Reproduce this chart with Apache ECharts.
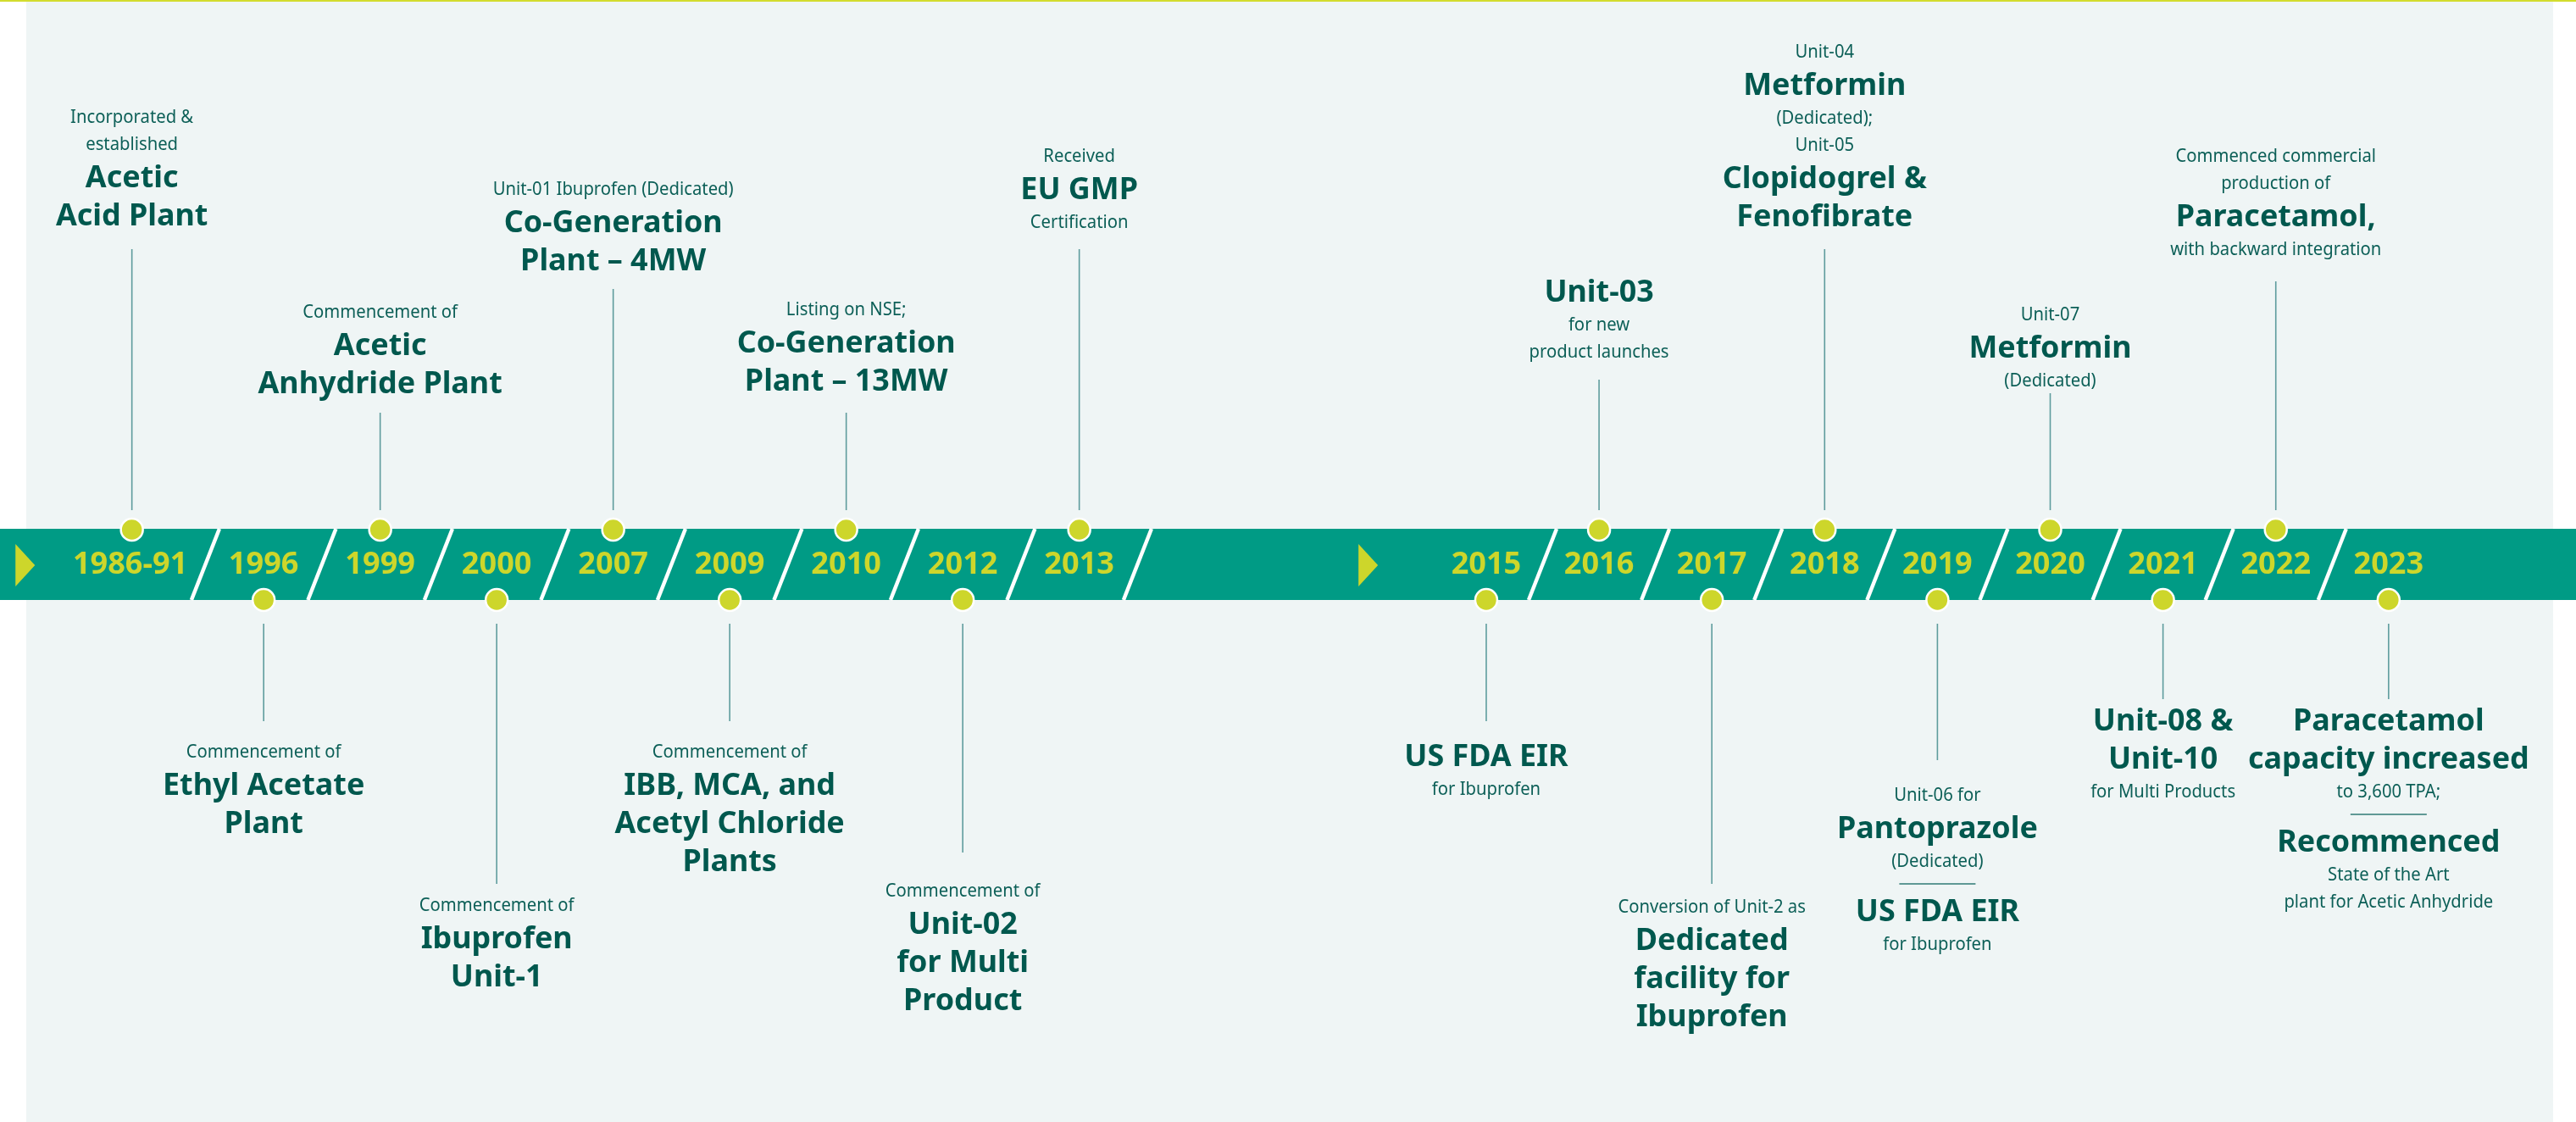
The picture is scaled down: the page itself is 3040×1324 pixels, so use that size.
<!DOCTYPE html>
<html><head><meta charset="utf-8">
<script src="https://cdn.jsdelivr.net/npm/echarts@6/dist/echarts.min.js"></script>
<style>html,body{margin:0;padding:0;background:#fff}#c{width:3040px;height:1324px}</style>
</head><body><div id="c"></div>
<script>
// ---------------- DATA ----------------
const yearsA = ['1986-91','1996','1999','2000','2007','2009','2010','2012','2013'];
const yearsB = ['2015','2016','2017','2018','2019','2020','2021','2022','2023'];
// '*' marks a headline line, '---' a short divider rule
const milestonesA = [
  ['Incorporated &','established','*Acetic','*Acid Plant'],
  ['Commencement of','*Ethyl Acetate','*Plant'],
  ['Commencement of','*Acetic','*Anhydride Plant'],
  ['Commencement of','*Ibuprofen','*Unit-1'],
  ['Unit-01 Ibuprofen (Dedicated)','*Co-Generation','*Plant – 4MW'],
  ['Commencement of','*IBB, MCA, and','*Acetyl Chloride','*Plants'],
  ['Listing on NSE;','*Co-Generation','*Plant – 13MW'],
  ['Commencement of','*Unit-02','*for Multi','*Product'],
  ['Received','*EU GMP','Certification']
];
const milestonesB = [
  ['*US FDA EIR','for Ibuprofen'],
  ['*Unit-03','for new','product launches'],
  ['Conversion of Unit-2 as','*Dedicated','*facility for','*Ibuprofen'],
  ['Unit-04','*Metformin','(Dedicated);','Unit-05','*Clopidogrel &','*Fenofibrate'],
  ['Unit-06 for','*Pantoprazole','(Dedicated)','---','*US FDA EIR','for Ibuprofen'],
  ['Unit-07','*Metformin','(Dedicated)'],
  ['*Unit-08 &','*Unit-10','for Multi Products'],
  ['Commenced commercial','production of','*Paracetamol,','with backward integration'],
  ['*Paracetamol','*capacity increased','to 3,600 TPA;','---','*Recommenced','State of the Art','plant for Acetic Anhydride']
];

// ---------------- LAYOUT (not data) ----------------
// [first text line centre y, far end of connector y, x nudge]
const LAYOUT_A = [[139,294,-18],[888,851,0],[369,487,0],[1069,1043,0],[224,341,0],[888,851,0],[366,487,0],[1052,1006,0],[185,294,0]];
const LAYOUT_B = [[894,851,0],[346,448,0],[1071,1043,0],[62,294,0],[939,897,0],[372,464,0],[852,825,0],[185,332,0],[852,825,0]];
const W = 3040, H = 1324;
const BAND_TOP = 624, BAND_BOT = 708, BAND_MID = 667;
const LINE_NEAR_TOP = 602, LINE_NEAR_BOT = 736;
const SLANT = 16.5;
const C_BAND = '#009B85', C_ACC = '#CDD62B', C_TEXT = '#00584E', C_SMALL = '#0C5F57', C_LINE = '#5E9C9D', C_PANEL = '#EFF5F5';

// ---------------- FONT PICK ----------------
const mctx = document.createElement('canvas').getContext('2d');
function hasFont(name){
  const s = 'abcdefghijklmnopqrstuvwxyzABCDEFGHIJKLMNOP0123456789';
  for (const base of ['monospace','serif']) {
    mctx.font = 'bold 40px ' + base; const a = mctx.measureText(s).width;
    mctx.font = 'bold 40px "' + name + '", ' + base; const b = mctx.measureText(s).width;
    if (Math.abs(a-b) > 0.5) return true;
  }
  return false;
}
const CANDS = ['Noto Sans','Open Sans','DejaVu Sans','Liberation Sans'];
const fam = CANDS.find(hasFont);
const FF = fam ? '"' + fam + '", sans-serif' : 'sans-serif';
function metrics(text, weight){
  mctx.font = weight + ' 100px ' + FF;
  return { w: mctx.measureText(text).width / 100, cap: (mctx.measureText('H').actualBoundingBoxAscent || 72) / 100 };
}
// size from cap height, horizontal squeeze from target width (reference font is condensed)
function fitScaled(text, weight, tw, tcap){
  const m = metrics(text, weight);
  const size = tcap / m.cap;
  return { size: size, sx: Math.min(1, tw / (m.w * size)) };
}
const FB = fitScaled('Co-Generation','bold',258,26);
const FS = fitScaled('Unit-01 Ibuprofen (Dedicated)','normal',284,15.7);
const mY = metrics('1986-91','bold');
const SIZE_Y = Math.min(139 / mY.w, 26 / mY.cap);

function advance(prev, cur){
  if (cur === 'r') return 26;
  if (prev === 'r') return cur === 'b' ? 34 : 30;
  if (prev === 's' && cur === 's') return 32;
  if (prev === 's' && cur === 'b') return 40;
  if (prev === 'b' && cur === 'b') return 45;
  return 38;
}

function makeSeries(k, years, ms, layout, globalStart, lastGroup){
  return {
    type: 'custom', coordinateSystem: 'cartesian2d', xAxisIndex: k, yAxisIndex: k,
    data: years.map((y, i) => [i, BAND_MID]),
    encode: { x: 0, y: 1 }, silent: true, clip: false, z: 5,
    renderItem(params, api){
      const i = api.value(0);
      const lay = layout[i];
      const xc = api.coord([i, BAND_MID])[0];
      const x = xc + lay[2];
      const slot = api.size([1, 0])[0];
      const yT = api.coord([i, BAND_TOP])[1], yB = api.coord([i, BAND_BOT])[1], yM = api.coord([i, BAND_MID])[1];
      const kids = [];
      if (!(lastGroup && i === years.length - 1)) {
        const xr = xc + slot / 2;
        kids.push({ type: 'line', shape: { x1: xr + SLANT, y1: yT, x2: xr - SLANT, y2: yB },
          style: { stroke: '#ffffff', lineWidth: 4.5 } });
      }
      if (i === 0) {
        const x0 = xc - slot * 1.05;
        kids.push({ type: 'polygon', shape: { points: [[x0 - 11, yM - 25], [x0 + 12, yM], [x0 - 11, yM + 25]] },
          style: { fill: C_ACC } });
      }
      const up = (globalStart + i) % 2 === 0;
      const far = api.coord([i, lay[1]])[1];
      if (up) {
        kids.push({ type: 'line', shape: { x1: x, y1: far, x2: x, y2: api.coord([i, LINE_NEAR_TOP])[1] },
          style: { stroke: C_LINE, lineWidth: 1.6 } });
      } else {
        kids.push({ type: 'line', shape: { x1: x, y1: api.coord([i, LINE_NEAR_BOT])[1], x2: x, y2: far },
          style: { stroke: C_LINE, lineWidth: 1.6 } });
      }
      kids.push({ type: 'circle', shape: { cx: x, cy: up ? yT + 1 : yB, r: 13 },
        style: { fill: C_ACC, stroke: '#ffffff', lineWidth: 2.5 } });
      let yy = api.coord([i, lay[0]])[1];
      let prev = null;
      ms[i].forEach(line => {
        const t = line === '---' ? 'r' : (line[0] === '*' ? 'b' : 's');
        if (prev) yy += advance(prev, t);
        if (t === 'r') {
          kids.push({ type: 'line', shape: { x1: x - 45, y1: yy, x2: x + 45, y2: yy },
            style: { stroke: '#2F7A74', lineWidth: 1.5 } });
        } else {
          const f = t === 'b' ? FB : FS;
          kids.push({ type: 'text', x: x, y: yy, scaleX: f.sx, scaleY: 1, style: {
            text: t === 'b' ? line.slice(1) : line, x: 0, y: 0,
            fill: t === 'b' ? C_TEXT : C_SMALL,
            fontSize: f.size, fontWeight: t === 'b' ? 'bold' : 'normal',
            fontFamily: FF, align: 'center', verticalAlign: 'middle' } });
        }
        prev = t;
      });
      return { type: 'group', children: kids };
    }
  };
}

const yearLabelStyle = { color: C_ACC, fontSize: SIZE_Y, fontWeight: 'bold', fontFamily: FF };
function xAx(k, years){
  const ax = { type: 'category', gridIndex: k, data: years, position: 'top', offset: -BAND_MID,
    axisLine: { show: false }, axisTick: { show: false }, splitLine: { show: false },
    axisLabel: Object.assign({ interval: 0, margin: 0, verticalAlign: 'middle' }, yearLabelStyle) };
  if (k === 0) {
    // first (wider) label sits left of its slot centre, like the nudged milestone above it
    ax.axisLabel.formatter = (v, idx) => idx === 0 ? '{f|' + v + '}' : v;
    ax.axisLabel.rich = { f: Object.assign({ padding: [0, 40, 0, 0], verticalAlign: 'middle' }, yearLabelStyle) };
  }
  return ax;
}
function yAx(k){
  return { type: 'value', gridIndex: k, min: 0, max: H, inverse: true, show: false };
}

const chart = echarts.init(document.getElementById('c'), null, { renderer: 'canvas', width: W, height: H });
chart.setOption({
  backgroundColor: '#ffffff',
  animation: false,
  graphic: [
    { type: 'rect', z: -30, shape: { x: 31, y: 0, width: 2982, height: H }, style: { fill: C_PANEL } },
    { type: 'rect', z: -29, shape: { x: 0, y: 0, width: W, height: 2 }, style: { fill: '#D3DC2E' } },
    { type: 'rect', z: -28, shape: { x: 0, y: BAND_TOP, width: W, height: BAND_BOT - BAND_TOP }, style: { fill: C_BAND } }
  ],
  grid: [
    { left: 104.9, width: 1237.5, top: 0, height: H },
    { left: 1687.4, width: 1198, top: 0, height: H }
  ],
  xAxis: [xAx(0, yearsA), xAx(1, yearsB)],
  yAxis: [yAx(0), yAx(1)],
  series: [
    makeSeries(0, yearsA, milestonesA, LAYOUT_A, 0, false),
    makeSeries(1, yearsB, milestonesB, LAYOUT_B, yearsA.length, true)
  ]
});
</script></body></html>
